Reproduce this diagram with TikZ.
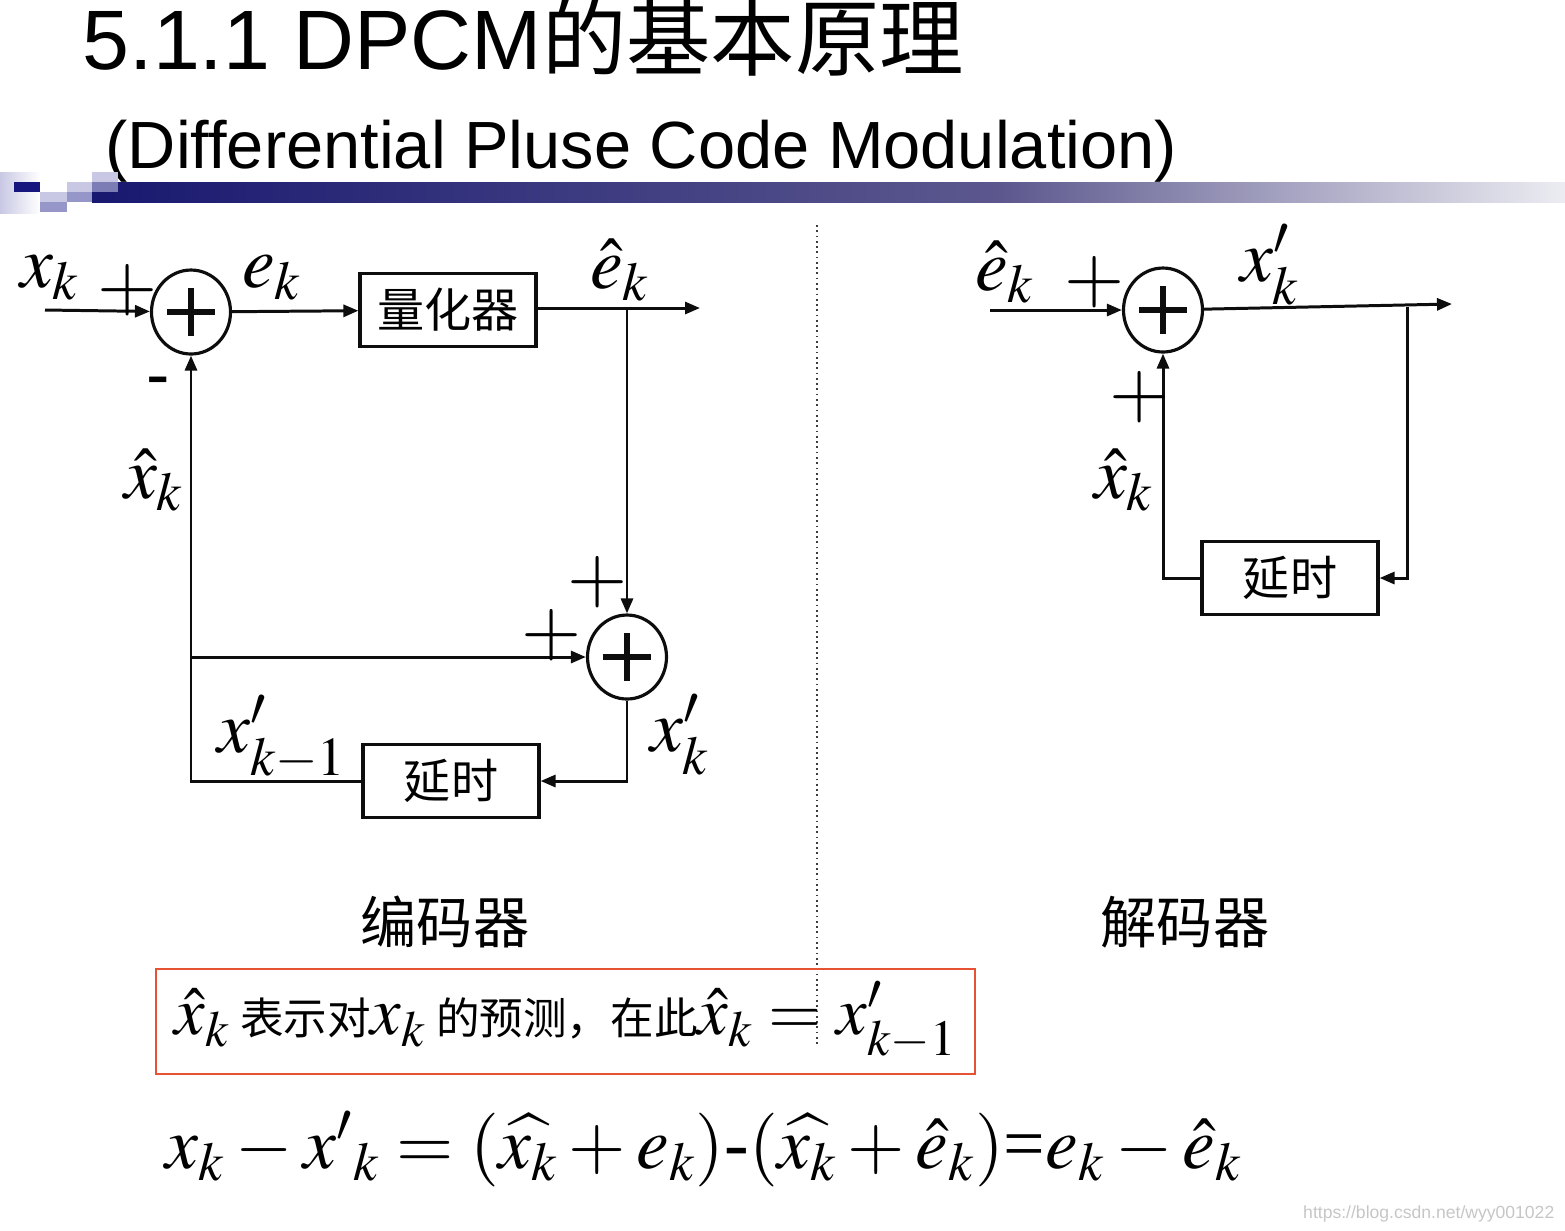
\documentclass[tikz,border=0pt]{standalone}
\usepackage{amsmath}
\usepackage{mathptmx}
\usepackage{fontspec}
\setmainfont{Liberation Serif}
\newfontfamily\arial{Liberation Sans}
\newfontfamily\cjk{Noto Sans CJK SC}
\usetikzlibrary{arrows.meta, shapes.geometric, calc}
\definecolor{ink}{gray}{0.05}
\definecolor{navybar}{RGB}{24,24,112}
\definecolor{midbar}{RGB}{92,88,142}
\definecolor{palebar}{RGB}{236,236,242}
\definecolor{lilac}{RGB}{200,200,228}
\definecolor{lilacmid}{RGB}{150,150,200}
\definecolor{notered}{RGB}{232,82,52}

\begin{document}
\begin{tikzpicture}[
  x=0.1mm, y=-0.1mm,
  box/.style={draw=ink, line width=0.9pt, minimum width=17.6mm, minimum height=7.3mm,
              inner sep=0pt, font=\cjk\fontsize{13.4}{16}\selectfont},
  sum/.style={ellipse, draw=ink, line width=0.9pt, minimum width=7.9mm, minimum height=8.4mm,
              inner sep=0pt,
              path picture={\draw[line width=1.8pt]
                (path picture bounding box.center) +(-2.4mm,0) -- +(2.4mm,0)
                (path picture bounding box.center) +(0,-2.4mm) -- +(0,2.4mm);}},
  lbl/.style={inner sep=0pt, font=\fontsize{21}{24}\selectfont},
  sgn/.style={inner sep=0pt, font=\fontsize{22}{24}\selectfont},
  ar/.style={-{Triangle[length=1.5mm, width=1.2mm]}, draw=ink, line width=0.85pt},
]
\useasboundingbox (0,0) rectangle (1565,1230);

% title and bar
\node[anchor=base west, inner sep=0pt, font=\arial\fontsize{24}{28}\selectfont] (title) at (82,69)
  {5.1.1 DPCM{\cjk 的基本原理}};
\node[anchor=base west, inner sep=0pt, font=\arial\fontsize{19}{22}\selectfont] (subtitle) at (105,168)
  {(Differential Pluse Code Modulation)};
\shade[left color=lilac, right color=white] (0,172) rectangle (40,213);
\fill[lilac] (40,192) rectangle (67,202);
\fill[lilacmid] (40,202) rectangle (67,212);
\fill[lilac] (67,182) rectangle (92,192);
\fill[lilacmid] (67,192) rectangle (92,202);
\fill[lilac] (92,172) rectangle (118,182);
\shade[left color=navybar, right color=midbar] (92,182) rectangle (1000,202);
\shade[left color=midbar, right color=palebar] (1000,182) rectangle (1565,202);
\fill[lilacmid, opacity=.8] (92,182) rectangle (118,192);
\fill[navybar!90!blue] (14,182) rectangle (40,192);

% encoder
\node[sum] (s1) at (191,312) {};
\node[box] (q)  at (448,310) {量化器};
\node[sum] (s2) at (627,657) {};
\node[box] (d1) at (451,781) {延时};
\coordinate (xin)  at (45,310);
\coordinate (eout) at (700,308);
\coordinate (br1)  at (s2 |- eout);
\coordinate (fb)   at (s1 |- s2);

\draw[ar] (xin) -- (s1);
\draw[ar] (s1) -- (q);
\draw[ar] (q.east |- eout) -- (eout);
\draw[ar] (br1) -- (s2);
\draw[ar] (fb) -- (s2);
\draw[ar] (s2.south) |- (d1.east);
\draw[ar] (d1.west) -| (s1.south);

\node[lbl] (lxk)  at (50,278)  {$x_k$};
\node[sgn] (p1)   at (128,290) {$+$};
\node[lbl] (lek)  at (272,278) {$e_k$};
\node[lbl] (lehk) at (620,270) {$\hat{e}_k$};
\node[inner sep=0pt, font=\arial\fontsize{20}{24}\selectfont] (m1) at (158,388) {-};
\node[lbl] (lxh)  at (154,480) {$\hat{x}_k$};
\node[sgn] (p2)   at (598,582) {$+$};
\node[sgn] (p3)   at (552,635) {$+$};
\node[lbl] (lxp1) at (282,738) {$x'_{k-1}$};
\node[lbl] (lxp)  at (680,735) {$x'_k$};

% divider
\draw[ink!80, line width=0.5pt, densely dotted] (817,225) -- (817,1045);

% decoder
\node[sum] (s3) at (1163,310) {};
\node[box] (d2) at (1290,578) {延时};
\coordinate (din)  at (990,310);
\coordinate (dout) at (1452,304);
\coordinate (br2)  at (1407,307);

\draw[ar] (din) -- (s3);
\draw[ar] (s3) -- (dout);
\draw[ar] (br2) |- (d2.east);
\draw[ar] (d2.west) -| (s3.south);

\node[lbl] (ldeh) at (1005,272) {$\hat{e}_k$};
\node[sgn] (p4)   at (1095,282) {$+$};
\node[lbl] (ldxp) at (1270,265) {$x'_k$};
\node[sgn] (p5)   at (1140,397) {$+$};
\node[lbl] (ldxh) at (1124,480) {$\hat{x}_k$};

% captions
\node[inner sep=0pt, font=\cjk\fontsize{16}{20}\selectfont] (enc) at (445,922) {编码器};
\node[inner sep=0pt, font=\cjk\fontsize{16}{20}\selectfont] (dec) at (1185,922) {解码器};

% note and relation
\draw[notered, line width=0.8pt] (156,969) rectangle (975,1074);
\node[inner sep=0pt, font=\cjk\fontsize{12.4}{15}\selectfont] (note) at (566,1021)
  {{\fontsize{19.5}{22}\selectfont$\hat{x}_k$} 表示对{\fontsize{19.5}{22}\selectfont$x_k$} 的预测，在此{\fontsize{19.5}{22}\selectfont$\hat{x}_k = x'_{k-1}$}};
\node[anchor=base west, inner sep=0pt, font=\fontsize{21}{25}\selectfont] (rel) at (165,1168)
  {$x_k - {x'}_{k} = (\widehat{x_k}+ e_k)$-$(\widehat{x_k}+ \hat{e}_k)$=$e_k - \hat{e}_k$};

\node[anchor=base east, inner sep=0pt, text=gray!45, font=\arial\fontsize{5}{6}\selectfont] (wm) at (1555,1218)
  {https://blog.csdn.net/wyy001022};
\end{tikzpicture}
\end{document}
